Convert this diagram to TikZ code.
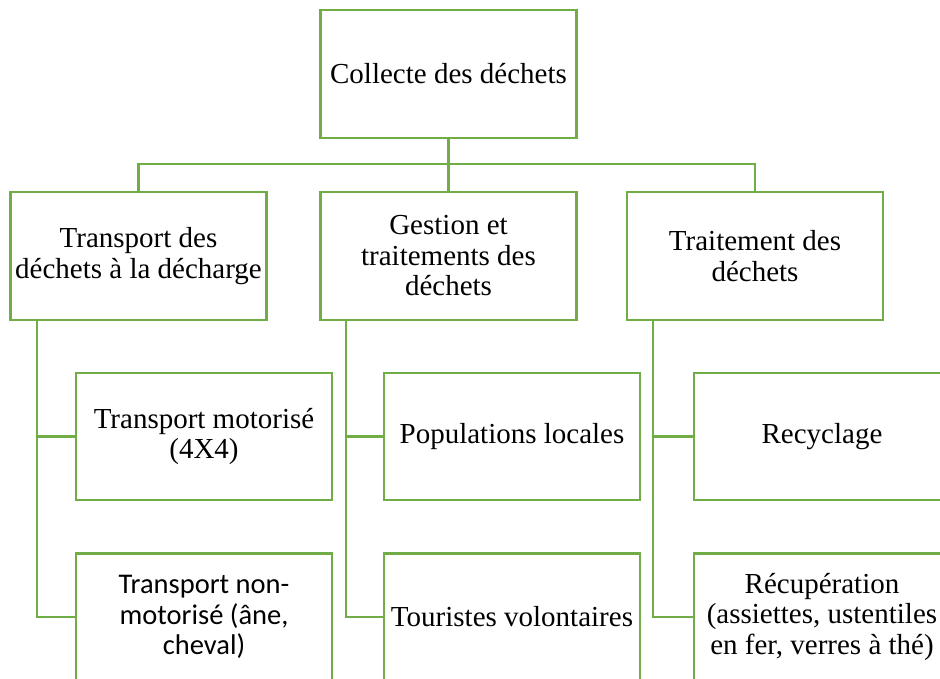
\documentclass[tikz,border=0pt]{standalone}
\usepackage{fontspec}
\setmainfont{Liberation Serif}
\newfontfamily\calib{Carlito}
\definecolor{grn}{HTML}{70AD47}
\begin{document}
\begin{tikzpicture}[x=1pt,y=-1pt,
  box/.style={draw=grn,line width=2.9pt,fill=white,align=center,inner sep=2pt,
    minimum width=256pt,minimum height=128pt,font=\fontsize{29}{30.5}\selectfont},
  smallbox/.style={box,minimum height=127pt},
  link/.style={draw=grn,line width=2.6pt}]
\useasboundingbox (0,0) rectangle (940,679);
\clip (0,0) rectangle (940,679);
\fill[white] (0,0) rectangle (940,679);
% level 1
\node[box] (c) at (448.5,74) {Collecte des déchets};
% level 2
\node[box] (a) at (138.5,256) {Transport des\\déchets à la décharge};
\node[box] (b) at (448.5,256) {Gestion et\\traitements des\\déchets};
\node[box] (d) at (755,256) {Traitement des\\déchets};
% level 3
\node[smallbox] (a1) at (204,436.5) {Transport motorisé\\(4X4)};
\node[smallbox] (a2) at (204,617) {\fontsize{28.5}{31}\calib Transport non-\\\fontsize{28.5}{31}\calib motorisé (âne,\\\fontsize{28.5}{31}\calib cheval)};
\node[smallbox] (b1) at (512,436.5) {Populations locales};
\node[smallbox] (b2) at (512,617) {Touristes volontaires};
\node[smallbox] (d1) at (822,436.5) {Recyclage};
\node[smallbox] (d2) at (822,617) {Récupération\\(assiettes, ustentiles\\en fer, verres à thé)};
% connectors
\coordinate (bus) at (449,164);
\coordinate (sa) at (37,320);
\coordinate (sb) at (346,320);
\coordinate (sd) at (653,320);
\draw[link] (c.south) -- (b.north);
\draw[link] (bus) -| (a.north);
\draw[link] (bus) -| (d.north);
\draw[link] (sa) |- (a1.west);
\draw[link] (sa) |- (a2.west);
\draw[link] (sb) |- (b1.west);
\draw[link] (sb) |- (b2.west);
\draw[link] (sd) |- (d1.west);
\draw[link] (sd) |- (d2.west);
\end{tikzpicture}
\end{document}
